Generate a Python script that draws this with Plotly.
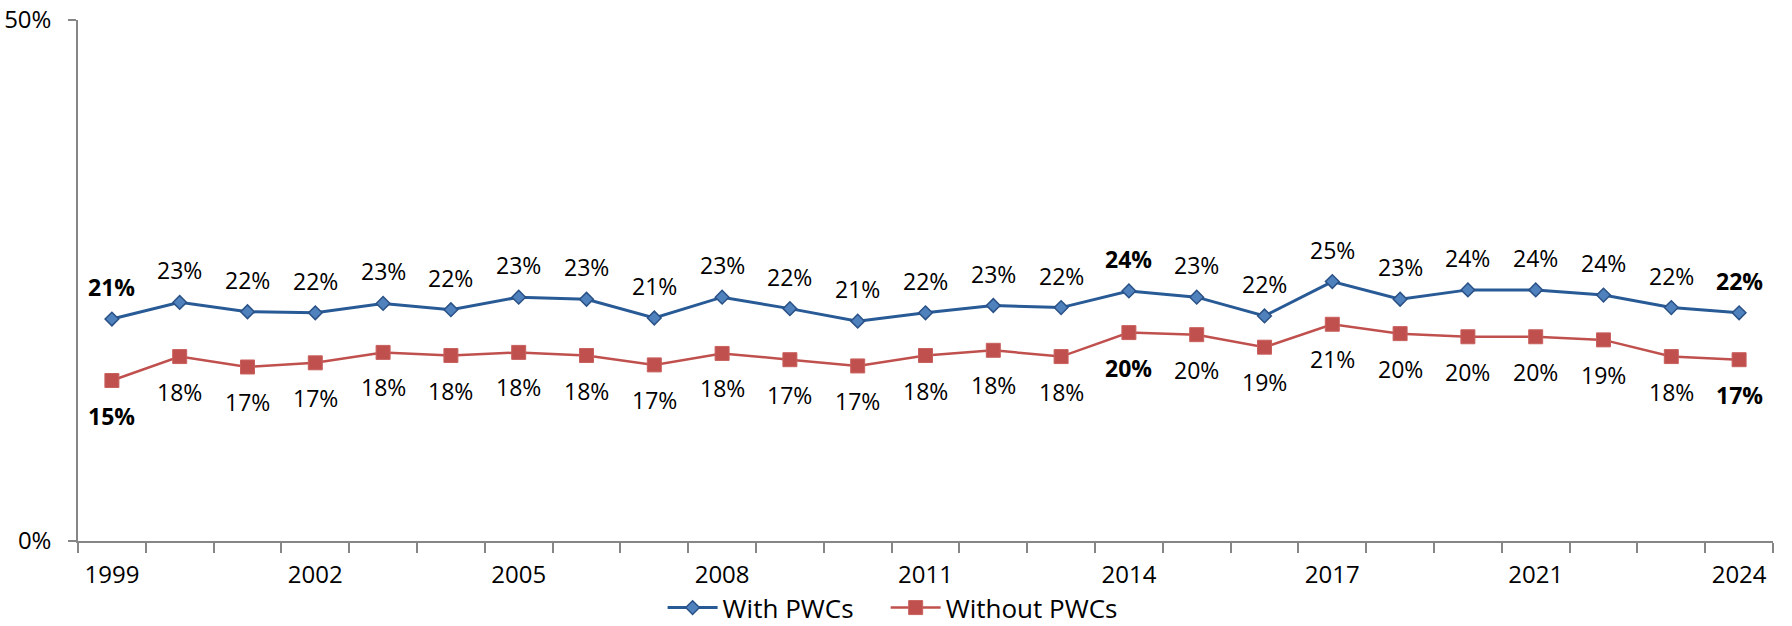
import plotly.graph_objects as go

years = ["1999", "2000", "2001", "2002", "2003", "2004", "2005", "2006", "2007", "2008",
         "2009", "2010", "2011", "2012", "2013", "2014", "2015", "2016", "2017", "2018",
         "2019", "2021", "2022", "2023", "2024"]
with_pwcs = [21.3, 22.9, 22.0, 21.9, 22.8, 22.2, 23.4, 23.2, 21.4, 23.4,
             22.3, 21.1, 21.9, 22.6, 22.4, 24.0, 23.4, 21.6, 24.9, 23.2,
             24.1, 24.1, 23.6, 22.4, 21.9]
without_pwcs = [15.4, 17.7, 16.7, 17.1, 18.1, 17.8, 18.1, 17.8, 16.9, 18.0,
                17.4, 16.8, 17.8, 18.3, 17.7, 20.0, 19.8, 18.6, 20.8, 19.9,
                19.6, 19.6, 19.3, 17.7, 17.4]
bold_years = ["1999", "2014", "2024"]
tick_years = ["1999", "2002", "2005", "2008", "2011", "2014", "2017", "2021", "2024"]

FONT = "Open Sans, Noto Sans, DejaVu Sans, sans-serif"
FS = 24
idx = list(range(len(years)))

fig = go.Figure()
fig.add_trace(go.Scatter(
    x=idx, y=[v / 100 for v in with_pwcs], mode="lines+markers", name="With PWCs",
    legend="legend",
    line=dict(color="#285A96", width=3),
    marker=dict(symbol="diamond", size=10.5, color="#4F81BD", line=dict(color="#2A5186", width=1.5)),
))
fig.add_trace(go.Scatter(
    x=idx, y=[v / 100 for v in without_pwcs], mode="lines+markers", name="Without PWCs",
    legend="legend2",
    line=dict(color="#C0504D", width=2.5),
    marker=dict(symbol="square", size=14, color="#C0504D", line=dict(color="#C8615E", width=1)),
))

annotations = []
for i, y in enumerate(years):
    for vals, shift in ((with_pwcs, 32), (without_pwcs, -35)):
        txt = f"{round(vals[i])}%"
        if y in bold_years:
            txt = f"<b>{txt}</b>"
        annotations.append(dict(
            x=i, y=vals[i] / 100, xref="x", yref="y", text=txt, showarrow=False,
            yshift=shift, font=dict(family=FONT, size=FS - 1, color="#000000"),
        ))

legend_common = dict(orientation="h", xanchor="left", y=-0.128, yanchor="middle",
                     font=dict(family=FONT, size=26, color="#000000"), itemwidth=50,
                     bgcolor="rgba(0,0,0,0)")

fig.update_layout(
    width=1792, height=626,
    margin=dict(l=78, r=19, t=19.5, b=85.3, autoexpand=False),
    paper_bgcolor="white", plot_bgcolor="white",
    font=dict(family=FONT, size=FS, color="#000000"),
    showlegend=True,
    legend=dict(x=0.3449, **legend_common),
    legend2=dict(x=0.4765, **legend_common),
    annotations=annotations,
)
fig.update_xaxes(
    range=[-0.5, len(years) - 0.5], showgrid=False, zeroline=False,
    tickmode="array", tickvals=[years.index(t) for t in tick_years], ticktext=tick_years,
    ticks="", showline=True, linecolor="#868686", linewidth=1.5,
    ticklabelstandoff=11,
    tickfont=dict(family=FONT, size=FS, color="#000000"),
    minor=dict(tickmode="linear", tick0=-0.5, dtick=1, ticks="outside", ticklen=10,
               tickcolor="#868686", tickwidth=1.5, showgrid=False),
)
fig.update_yaxes(
    range=[0, 0.5], showgrid=False, zeroline=False,
    tickmode="array", tickvals=[0, 0.5], tickformat=".0%",
    ticks="outside", ticklen=8, tickcolor="#868686", tickwidth=1.5,
    showline=True, linecolor="#868686", linewidth=1.5,
    ticklabelstandoff=12,
    tickfont=dict(family=FONT, size=FS, color="#000000"),
)

fig.write_html("out.html", config={"displayModeBar": False},
               post_script="document.body.style.margin='0';document.body.style.overflow='hidden';")
